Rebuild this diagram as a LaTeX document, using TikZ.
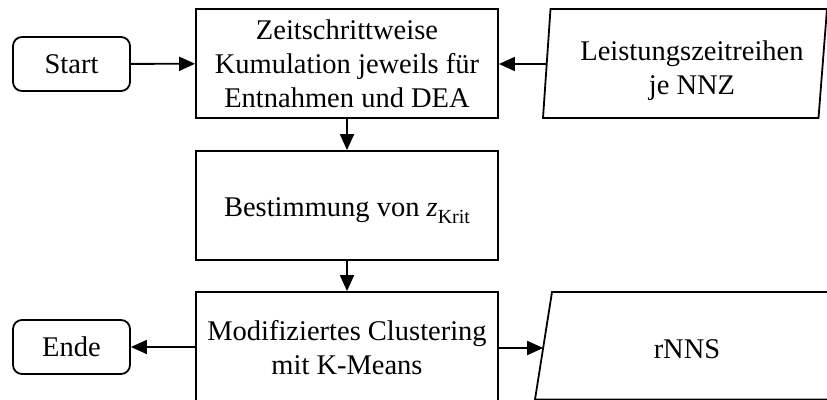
\documentclass[tikz,border=0pt]{standalone}
\usepackage{fontspec}
\setmainfont{Liberation Serif}
\usetikzlibrary{arrows.meta}
\begin{document}
\begin{tikzpicture}[x=1pt,y=-1pt,
  every node/.style={font=\fontsize{28.5}{34}\selectfont, inner sep=0pt, align=center},
  frame/.style={line width=1.8pt},
  process/.style={draw, frame, rectangle, minimum width=302pt},
  terminal/.style={draw, frame, rectangle, rounded corners=9pt, minimum width=117pt, minimum height=54pt},
  flow/.style={frame, -{Triangle[length=16pt,width=14pt]}}
]
\clip (0,0) rectangle (827,399);

% terminals
\node[terminal] (start) at (71.5,64) {Start};
\node[terminal] (ende)  at (71.5,347) {Ende};

% process steps
\node[process, minimum height=109pt] (kum) at (347,63.5)
  {Zeitschrittweise\\Kumulation jeweils für\\Entnahmen und DEA};
\node[process, minimum height=109pt, text height=27pt, text depth=6pt] (krit) at (347,205.5)
  {Bestimmung von \textit{z}\raisebox{-0.28em}{\fontsize{20}{20}\selectfont Krit}};
\node[process, minimum height=112pt] (clu) at (347,348)
  {Modifiziertes Clustering\\mit K-Means};

% data input / output (parallelograms)
\draw[frame] (550.5,9) -- (827,9) -- (818.5,118) -- (543,118) -- cycle;
\node (ls) at (692,71) {Leistungszeitreihen\\je NNZ};
\coordinate (lsIn) at (546.3,64);

\draw[frame] (552,292) -- (845,292) -- (828,399.5) -- (535,399.5) -- cycle;
\node (rnns) at (687,349) {rNNS};
\coordinate (rnnsIn) at (543.2,348);

% connectors
\draw[flow] (start) -- (kum);
\draw[flow] (lsIn) -- (kum.east |- lsIn);
\draw[flow] (kum) -- (krit);
\draw[flow] (krit) -- (clu);
\draw[flow] (clu.west |- ende) -- (ende);
\draw[flow] (clu.east |- rnnsIn) -- (rnnsIn);
\end{tikzpicture}
\end{document}
